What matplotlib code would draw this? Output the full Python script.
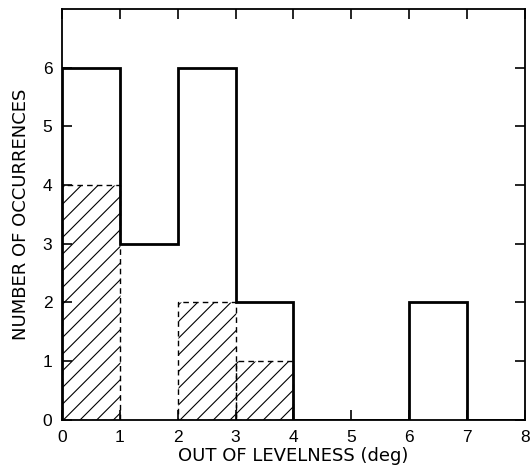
import matplotlib
matplotlib.use("Agg")
import matplotlib.pyplot as plt
import numpy as np

plt.rcParams['font.family'] = ['Liberation Sans', 'DejaVu Sans']
plt.rcParams['hatch.linewidth'] = 0.8

bin_edges = [0, 1, 2, 3, 4, 5, 6, 7, 8]
all_counts = [6, 3, 6, 2, 0, 0, 2, 0]
hatched_lefts = [0, 2, 3]
hatched_counts = [4, 2, 1]
x_ticks = [0, 1, 2, 3, 4, 5, 6, 7, 8]
y_ticks = [0, 1, 2, 3, 4, 5, 6]
x_label = "OUT OF LEVELNESS (deg)"
y_label = "NUMBER OF OCCURRENCES"

fig = plt.figure(figsize=(5.31, 4.66), dpi=100)
ax = fig.add_axes([0.117, 0.099, 0.871, 0.882])

ax.bar(hatched_lefts, hatched_counts, width=1, align='edge', fill=False,
       hatch='//', edgecolor='black', linestyle=(0, (4, 3)), linewidth=1.0)
ax.stairs(all_counts, bin_edges, color='black', linewidth=2.0, baseline=0)

ax.set_xlim(0, 8)
ax.set_ylim(0, 7)
ax.set_xticks(x_ticks)
ax.set_yticks(y_ticks)
ax.tick_params(direction='in', length=7, width=1.2, top=True, right=True,
               labelsize=12.5, pad=7)
for s in ax.spines.values():
    s.set_linewidth(1.3)
ax.set_xlabel(x_label, fontsize=13, labelpad=2, family='DejaVu Sans')
ax.set_ylabel(y_label, fontsize=13, labelpad=9, family='DejaVu Sans')

fig.savefig("out.png", dpi=100)
